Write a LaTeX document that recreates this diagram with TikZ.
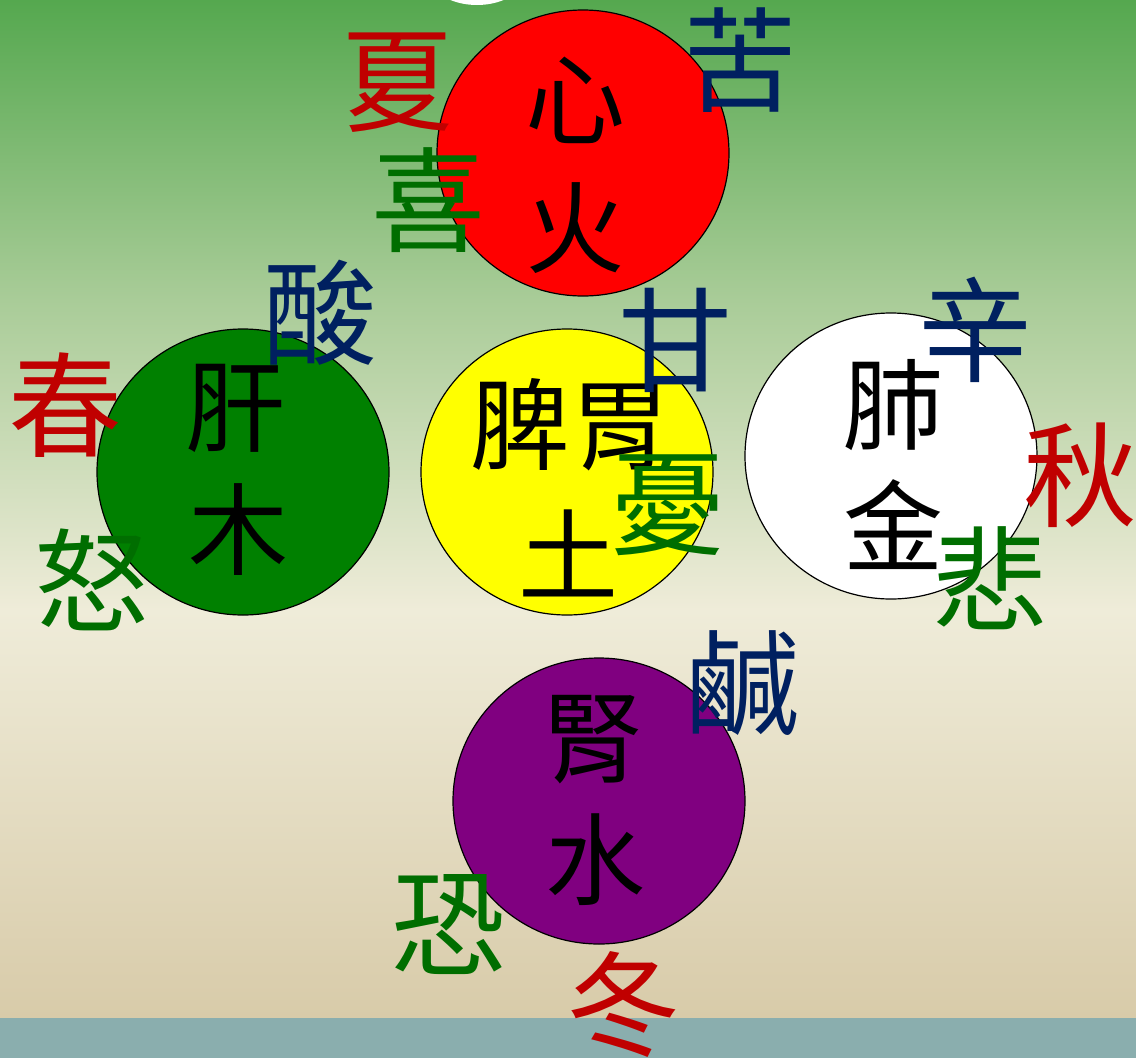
\documentclass[tikz,border=0pt]{standalone}
\usepackage{fontspec}
\newfontfamily\cjk{Noto Sans CJK TC}
\usetikzlibrary{shapes.geometric}
\definecolor{bgtop}{HTML}{55A84F}
\definecolor{bgmid}{HTML}{A9CC98}
\definecolor{bgbeige}{HTML}{EFECD9}
\definecolor{bgtan}{HTML}{D8CBA9}
\definecolor{bgbar}{HTML}{8AAEAE}
\definecolor{cred}{HTML}{C00000}
\definecolor{cgreen}{HTML}{006E00}
\definecolor{cnavy}{HTML}{002060}
\definecolor{ored}{HTML}{FF0000}
\definecolor{ogreen}{HTML}{008000}
\definecolor{oyellow}{HTML}{FFFF00}
\definecolor{opurple}{HTML}{800080}
\tikzset{
  organ/.style={ellipse, draw=black, line width=1.2pt, minimum width=292pt, minimum height=286pt, inner sep=0pt},
  inner/.style={inner sep=0pt, text=black, font=\cjk\fontsize{100}{100}\selectfont},
  lbl/.style={inner sep=0pt, font=\cjk\fontsize{114}{114}\selectfont},
}
\begin{document}
\begin{tikzpicture}[x=1pt,y=-1pt]
\useasboundingbox (0,0) rectangle (1136,1058);
% background
\shade[top color=bgtop, bottom color=bgmid] (0,0) rectangle (1136,300);
\shade[top color=bgmid, bottom color=bgbeige] (0,300) rectangle (1136,610);
\shade[top color=bgbeige, bottom color=bgtan] (0,610) rectangle (1136,1018);
\fill[bgbar] (0,1018) rectangle (1136,1058);
\fill[white] (477,-25) ellipse [x radius=48, y radius=30];
% organs
\node[organ, fill=ored] (fire) at (583,153) {};
\node[organ, fill=ogreen] (wood) at (243,472) {};
\node[organ, fill=oyellow] (earth) at (567,472) {};
\node[organ, fill=white] (metal) at (891,456) {};
\node[organ, fill=opurple] (water) at (599,801) {};
% inner texts
\node[inner] (xin) at (575,100) {心};
\node[inner] (huo) at (575,228) {火};
\node[inner] (gan) at (235,408) {肝};
\node[inner] (mu) at (238,530) {木};
\node[inner] (piwei) at (570,425) {脾胃};
\node[inner] (tu) at (568,553) {土};
\node[inner] (fei) at (893,405) {肺};
\node[inner] (jin) at (893,525) {金};
\node[inner] (shen) at (593,740) {腎};
\node[inner] (shui) at (595,860) {水};
% labels
\node[lbl, text=cred] (xia) at (397,83) {夏};
\node[lbl, text=cgreen] (xi) at (428,200) {喜};
\node[lbl, text=cnavy] (ku) at (740,60) {苦};
\node[lbl, text=cnavy] (suan) at (320,313) {酸};
\node[lbl, text=cred] (chun) at (66,405) {春};
\node[lbl, text=cgreen] (nu) at (92,580) {怒};
\node[lbl, text=cnavy] (gantaste) at (675,340) {甘};
\node[lbl, text=cgreen] (you) at (668,505) {憂};
\node[lbl, text=cnavy] (xinw) at (975,330) {辛};
\node[lbl, text=cred] (qiu) at (1080,475) {秋};
\node[lbl, text=cgreen] (bei) at (990,578) {悲};
\node[lbl, text=cnavy] (xian) at (742,683) {鹹};
\node[lbl, text=cgreen] (kong) at (448,925) {恐};
\node[lbl, text=cred] (dong) at (623,1005) {冬};
\end{tikzpicture}
\end{document}
